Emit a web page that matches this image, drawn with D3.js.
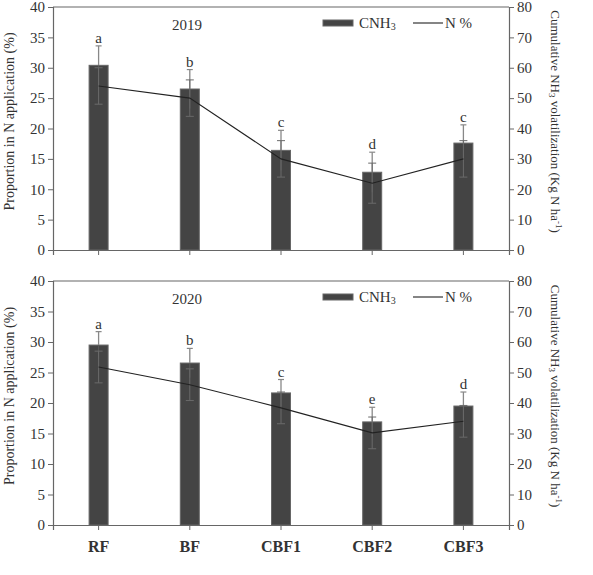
<!DOCTYPE html>
<html>
<head>
<meta charset="utf-8">
<script src="https://cdn.jsdelivr.net/npm/d3@7"></script>
<style>
  body { margin: 0; background: #fff; }
  svg text { font-family: "Liberation Serif", "Times New Roman", serif; fill: #333; }
</style>
</head>
<body>
<svg id="chart" width="593" height="575"></svg>
<script>
// categories and values
const categories = ["RF", "BF", "CBF1", "CBF2", "CBF3"];

const cnh3_2019 = [60.8, 53.0, 32.8, 25.6, 35.2];
const cnh3Err_2019 = [6.4, 6.4, 6.6, 6.6, 6.0];
const nPct_2019 = [27.0, 25.0, 15.0, 11.0, 15.0];
const nPctErr_2019 = [3.0, 3.0, 3.0, 3.3, 3.0];
const letters_2019 = ["a", "b", "c", "d", "c"];

const cnh3_2020 = [59.0, 53.1, 43.3, 33.8, 39.0];
const cnh3Err_2020 = [4.4, 4.8, 4.4, 4.8, 4.6];
const nPct_2020 = [25.9, 23.0, 19.2, 15.1, 17.0];
const nPctErr_2020 = [2.6, 2.6, 2.6, 2.6, 2.6];
const letters_2020 = ["a", "b", "c", "e", "d"];

const leftTicks = [0, 5, 10, 15, 20, 25, 30, 35, 40];
const rightTicks = [0, 10, 20, 30, 40, 50, 60, 70, 80];

const svg = d3.select("#chart");
const left = 53, right = 509;

const x = d3.scaleBand().domain(categories).range([left, right]).paddingInner(0).paddingOuter(0);
const barW = 19;

function drawPanel(top, bottom, year, cnh3, cnh3Err, nPct, nPctErr, letters, showX) {
    const g = svg.append("g");
    const yL = d3.scaleLinear().domain([0, 40]).range([bottom, top]);
    const yR = d3.scaleLinear().domain([0, 80]).range([bottom, top]);
    const cx = d => x(d) + x.bandwidth() / 2;

    // top frame
    g.append("line").attr("x1", left).attr("x2", right).attr("y1", top).attr("y2", top)
        .attr("stroke", "#666").attr("stroke-width", 1.2);

    // bars (right axis)
    g.selectAll(".bar").data(categories).enter().append("rect")
        .attr("x", d => cx(d) - barW / 2)
        .attr("y", (d, i) => yR(cnh3[i]))
        .attr("width", barW)
        .attr("height", (d, i) => yR(0) - yR(cnh3[i]))
        .attr("fill", "#444")
        .attr("stroke", "#666").attr("stroke-width", 1);

    // bar error bars: upper part outside the bar, lower part faint inside
    categories.forEach((d, i) => {
        const xc = cx(d);
        g.append("line").attr("x1", xc).attr("x2", xc)
            .attr("y1", yR(cnh3[i])).attr("y2", yR(cnh3[i] + cnh3Err[i]))
            .attr("stroke", "#888").attr("stroke-width", 1.3);
        g.append("line").attr("x1", xc - 3).attr("x2", xc + 3)
            .attr("y1", yR(cnh3[i] + cnh3Err[i])).attr("y2", yR(cnh3[i] + cnh3Err[i]))
            .attr("stroke", "#888").attr("stroke-width", 1.2);
        g.append("line").attr("x1", xc).attr("x2", xc)
            .attr("y1", yR(cnh3[i])).attr("y2", yR(cnh3[i] - cnh3Err[i]))
            .attr("stroke", "#5a5a5a").attr("stroke-width", 1);
        // line error bars
        [nPct[i] + nPctErr[i], nPct[i] - nPctErr[i]].forEach(v => {
            g.append("line").attr("x1", xc - 4).attr("x2", xc + 4)
                .attr("y1", yL(v)).attr("y2", yL(v))
                .attr("stroke", "#6a6a6a").attr("stroke-width", 1);
        });
        g.append("line").attr("x1", xc).attr("x2", xc)
            .attr("y1", yL(nPct[i] + nPctErr[i])).attr("y2", yL(nPct[i] - nPctErr[i]))
            .attr("stroke", "#6a6a6a").attr("stroke-width", 1);
        // significance letters
        g.append("text").attr("x", xc).attr("y", yR(cnh3[i] + cnh3Err[i]) - 3)
            .attr("text-anchor", "middle").attr("font-size", 15).text(letters[i]);
    });

    // N % line (left axis)
    const line = d3.line().x((d, i) => cx(categories[i])).y(d => yL(d));
    g.append("path").datum(nPct).attr("d", line)
        .attr("fill", "none").attr("stroke", "#222").attr("stroke-width", 1.1);

    // axes
    const axL = g.append("g").attr("transform", `translate(${left},0)`)
        .call(d3.axisLeft(yL).tickValues(leftTicks).tickSize(5).tickPadding(3));
    const axR = g.append("g").attr("transform", `translate(${right},0)`)
        .call(d3.axisRight(yR).tickValues(rightTicks).tickSize(5).tickPadding(3));
    const axB = g.append("g").attr("transform", `translate(0,${bottom})`)
        .call(d3.axisBottom(x).tickSize(5).tickPadding(8));
    [axL, axR, axB].forEach(a => {
        a.select(".domain").attr("stroke", "#666").attr("stroke-width", 1.2);
        a.selectAll(".tick line").attr("stroke", "#666");
        a.selectAll("text").attr("font-size", 15).attr("fill", "#333")
            .attr("font-family", "Liberation Serif, serif");
    });
    if (showX) {
        axB.selectAll("text").attr("font-weight", "bold").attr("font-size", 16).attr("dy", "0.85em");
    } else {
        axB.selectAll("text").remove();
    }

    // year label
    g.append("text").attr("x", 187).attr("y", top + 23).attr("text-anchor", "middle")
        .attr("font-size", 15).text(year);

    // legend
    const ly = top + 16;
    g.append("rect").attr("x", 323).attr("y", ly - 3).attr("width", 30).attr("height", 6)
        .attr("fill", "#444").attr("stroke", "#666");
    g.append("text").attr("x", 359).attr("y", ly + 5).attr("font-size", 15)
        .html('CNH<tspan font-size="10" dy="2">3</tspan>');
    g.append("line").attr("x1", 413).attr("x2", 443).attr("y1", ly).attr("y2", ly)
        .attr("stroke", "#222").attr("stroke-width", 1.1);
    g.append("text").attr("x", 445).attr("y", ly + 5).attr("font-size", 15).text("N %");

    // axis titles
    const mid = (top + bottom) / 2 - 7;
    g.append("text").attr("transform", `translate(14,${mid}) rotate(-90)`)
        .attr("text-anchor", "middle").attr("font-size", 14)
        .text("Proportion in N application (%)");
    g.append("text").attr("transform", `translate(551,${mid}) rotate(90)`)
        .attr("text-anchor", "middle").attr("font-size", 13)
        .html('Cumulative NH<tspan font-size="9" dy="2">3</tspan><tspan dy="-2"> volatilization (Kg N ha</tspan><tspan font-size="9" dy="-5">-1</tspan><tspan dy="5">)</tspan>');
}

drawPanel(7, 250, "2019", cnh3_2019, cnh3Err_2019, nPct_2019, nPctErr_2019, letters_2019, false);
drawPanel(281, 525, "2020", cnh3_2020, cnh3Err_2020, nPct_2020, nPctErr_2020, letters_2020, true);
</script>
</body>
</html>
